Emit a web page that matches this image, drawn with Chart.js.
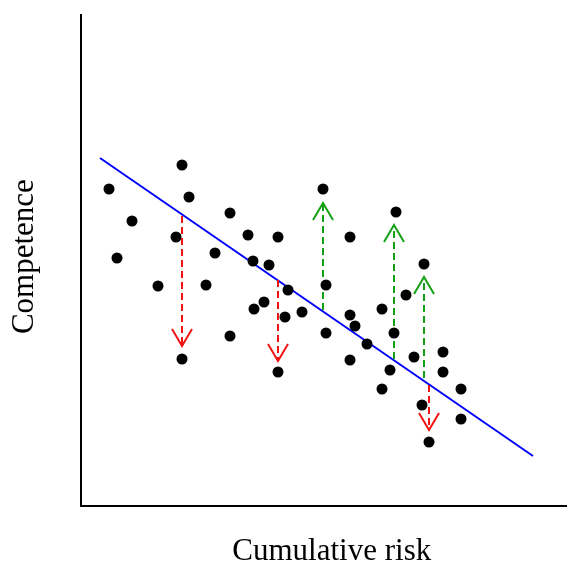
<!DOCTYPE html>
<html>
<head>
<meta charset="utf-8">
<script src="https://cdn.jsdelivr.net/npm/chart.js@4"></script>
<style>
  html, body { margin: 0; padding: 0; background: #fff; }
  #wrap { width: 567px; height: 562px; }
</style>
</head>
<body>
<div id="wrap"><canvas id="chart"></canvas></div>
<script>
// values (arbitrary units, no ticks shown)
const riskX = [101, 28, 108, 51, 149, 95, 167, 197, 36, 134, 172, 188, 77, 125, 207, 183, 173, 204, 221, 149, 101, 197,
               242, 315, 269, 343, 245, 325, 301, 269, 274, 245, 313, 286, 362, 333, 269, 362, 309, 301, 380, 341, 380, 348];
const competenceY = [341, 317, 309, 285, 293, 269, 271, 269, 248, 253, 245, 241, 220, 221, 216, 204, 197, 189, 194, 170, 147, 134,
                     317, 294, 269, 242, 221, 211, 197, 191, 180, 173, 173, 162, 154, 149, 146, 134, 136, 117, 117, 101, 87, 64];

// fitted line end points
const fitX = [19, 452];
const fitY = [348, 50];

// residual arrows: from the line to the observed value
const arrowX = [101, 197, 242, 313, 343, 348];
const arrowFrom = [290, 226, 196, 147, 128, 121];
const arrowTo = [160, 145, 303, 281, 229, 76];

const xMax = 486;
const yMax = 491;

const RED = '#f21414';
const GREEN = '#14a014';

const arrowSets = arrowX.map((x, i) => {
    const up = arrowTo[i] > arrowFrom[i];
    return {
        type: 'line',
        data: [{ x: x, y: arrowFrom[i] }, { x: x, y: arrowTo[i] }],
        borderColor: up ? GREEN : RED,
        borderWidth: 2,
        borderDash: [7, 4],
        pointRadius: 0,
        arrowHead: true,
        order: 2
    };
});

// draws the open V heads at the tip of each arrow
const arrowHeads = {
    id: 'arrowHeads',
    afterDatasetsDraw(chart) {
        const ctx = chart.ctx;
        const xs = chart.scales.x, ys = chart.scales.y;
        chart.data.datasets.forEach(ds => {
            if (!ds.arrowHead) return;
            const a = ds.data[0], b = ds.data[1];
            const px = xs.getPixelForValue(b.x);
            const py = ys.getPixelForValue(b.y);
            const dir = b.y > a.y ? 1 : -1; // 1 means pointing up
            ctx.save();
            ctx.strokeStyle = ds.borderColor;
            ctx.lineWidth = 2;
            ctx.beginPath();
            ctx.moveTo(px - 10, py + dir * 17);
            ctx.lineTo(px, py);
            ctx.lineTo(px + 10, py + dir * 17);
            ctx.stroke();
            ctx.restore();
        });
    }
};

new Chart(document.getElementById('chart'), {
    type: 'scatter',
    data: {
        datasets: [
            {
                data: riskX.map((x, i) => ({ x: x, y: competenceY[i] })),
                backgroundColor: '#000',
                borderWidth: 0,
                pointRadius: 5.5,
                order: 1
            },
            {
                type: 'line',
                data: fitX.map((x, i) => ({ x: x, y: fitY[i] })),
                borderColor: '#0000ff',
                borderWidth: 2,
                pointRadius: 0,
                order: 3
            },
            ...arrowSets
        ]
    },
    options: {
        responsive: true,
        maintainAspectRatio: false,
        animation: false,
        events: [],
        layout: { autoPadding: false, padding: { top: 15, right: 0, bottom: 0, left: 0 } },
        plugins: {
            legend: { display: false },
            tooltip: { enabled: false }
        },
        scales: {
            x: {
                type: 'linear',
                min: 0,
                max: xMax,
                ticks: { display: false },
                grid: { display: false, drawTicks: false },
                border: { display: true, color: '#000', width: 2 },
                title: {
                    display: true,
                    text: '  Cumulative risk',
                    color: '#000',
                    font: { family: 'Liberation Serif', size: 31, lineHeight: 1 },
                    padding: { top: 30, bottom: -5 }
                }
            },
            y: {
                type: 'linear',
                min: 0,
                max: yMax,
                ticks: { display: false },
                grid: { display: false, drawTicks: false },
                border: { display: true, color: '#000', width: 2 },
                title: {
                    display: true,
                    text: ' Competence',
                    color: '#000',
                    font: { family: 'Liberation Serif', size: 31, lineHeight: 1 },
                    padding: { top: 9, bottom: 41 }
                }
            }
        }
    },
    plugins: [arrowHeads]
});
</script>
</body>
</html>
